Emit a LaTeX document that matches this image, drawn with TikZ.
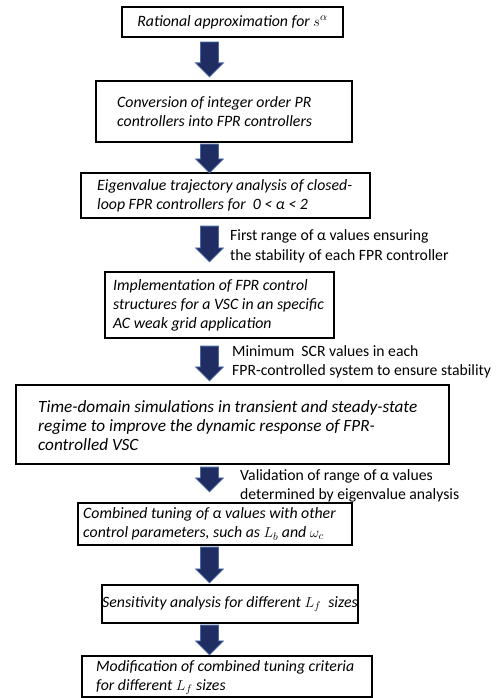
\documentclass[tikz,border=0pt]{standalone}
\usepackage{fontspec}
\setmainfont{Carlito}
\usetikzlibrary{calc}
\definecolor{navy}{HTML}{1F2D63}
\definecolor{navyedge}{HTML}{4A6AA5}
\begin{document}
\begin{tikzpicture}[x=1pt,y=-1pt,
  box/.style={draw=black, line width=2.2pt, inner sep=0pt},
  txt/.style={font=\fontsize{15.8}{19}\selectfont\itshape, align=left, inner sep=0pt, anchor=west},
  bigtxt/.style={txt, font=\fontsize{17.2}{19}\selectfont\itshape},
  lbl/.style={font=\fontsize{15.7}{19.5}\selectfont, align=left, inner sep=0pt, anchor=west},
  barrow/.style={fill=navy, draw=navyedge, line width=0.8pt,
    to path={let \p1=(\tikztostart), \p2=(\tikztotarget) in
      (\x1-9pt,\y1) -- (\x1+9pt,\y1) -- (\x1+9pt,\y2+14pt) -- (\x1+14pt,\y2+14pt)
      -- (\x1,\y2) -- (\x1-14pt,\y2+14pt) -- (\x1-9pt,\y2+14pt) -- cycle}}]
\useasboundingbox (0,0) rectangle (498,698);

% boxes
\node[box, minimum width=221pt, minimum height=30pt] (b1) at (232.5,22) {};
\node[box, minimum width=256pt, minimum height=61pt] (b2) at (224,111.5) {};
\node[box, minimum width=289pt, minimum height=45pt] (b3) at (225.5,195.5) {};
\node[box, minimum width=229pt, minimum height=66pt] (b4) at (219.5,305) {};
\node[box, minimum width=433pt, minimum height=79pt] (b5) at (232.5,424.5) {};
\node[box, minimum width=274pt, minimum height=42pt] (b6) at (215,524) {};
\node[box, minimum width=256pt, minimum height=38pt] (b7) at (230,604) {};
\node[box, minimum width=290pt, minimum height=41pt] (b8) at (227,676.5) {};

% box texts
\node[txt, anchor=center] (t1) at (b1.center) {Rational approximation for $s^{\alpha}$};
\node[txt] (t2) at (117,111.5) {Conversion of integer order PR\\controllers into FPR controllers};
\node[txt] (t3) at (97,195.5) {Eigenvalue trajectory analysis of closed-\\loop FPR controllers for~ 0 < α < 2};
\node[txt] (t4) at (113,305) {Implementation of FPR control\\structures for a VSC in an specific\\AC weak grid application};
\node[bigtxt] (t5) at (38,426) {Time-domain simulations in transient and steady-state\\regime to improve the dynamic response of FPR-\\controlled VSC};
\node[txt] (t6) at (83,524) {Combined tuning of α values with other\\control parameters, such as $L_b$ and $\omega_c$};
\node[txt, anchor=center] (t7) at (b7.center) {Sensitivity analysis for different $L_f$~ sizes};
\node[txt] (t8) at (96,677.5) {Modification of combined tuning criteria\\for different $L_f$ sizes};

% arrows
\coordinate (ax) at (209.5,0);
\draw[barrow] ($(b1.south -| ax)+(0,4)$) to ($(b2.north -| ax)+(0,-3)$);
\draw[barrow] ($(b2.south -| ax)+(0,1)$) to ($(b3.north -| ax)+(0,1)$);
\draw[barrow] ($(b3.south -| ax)+(0,7)$) to ($(b4.north -| ax)+(0,-9)$);
\draw[barrow] ($(b4.south -| ax)+(0,7)$) to ($(b5.north -| ax)+(0,-3)$);
\draw[barrow] ($(b5.south -| ax)+(0,2)$) to ($(b6.north -| ax)+(0,-10)$);
\draw[barrow] ($(b6.south -| ax)+(0,1)$) to ($(b7.north -| ax)+(0,-1)$);
\draw[barrow] ($(b7.south -| ax)+(0,1)$) to ($(b8.north -| ax)+(0,0)$);

% labels
\node[lbl] (l1) at (230,246.5) {First range of α values ensuring\\the stability of each FPR controller};
\node[lbl] (l2) at (232,362) {Minimum~ SCR values in each\\FPR-controlled system to ensure stability};
\node[lbl] (l3) at (240,486) {Validation of range of α values\\determined by eigenvalue analysis};
\end{tikzpicture}
\end{document}
